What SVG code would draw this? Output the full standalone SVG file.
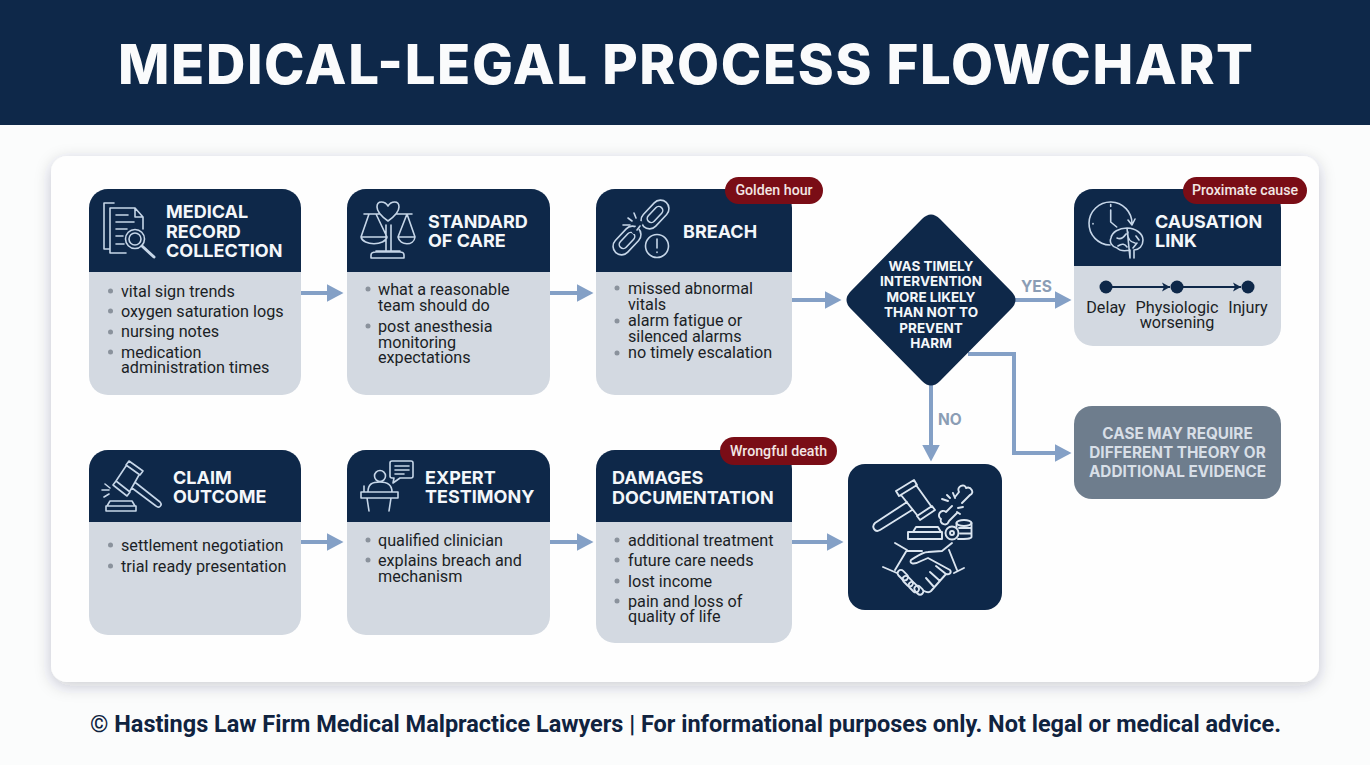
<svg xmlns="http://www.w3.org/2000/svg" width="1370" height="765" viewBox="0 0 1370 765">
<style>
.body{fill:#d3d9e1}
.head{fill:#0e2849}
.h{font-family:Inter,"Liberation Sans",sans-serif;font-weight:700;font-size:18px;fill:#f4f7fa}
.t{font-family:Roboto,"Liberation Sans",sans-serif;font-size:16.2px;fill:#1b1f26}
.b{fill:#8a929c}
.badge{fill:#7a0d16}
.bt{font-family:Roboto,"Liberation Sans",sans-serif;font-weight:500;font-size:14.2px;fill:#f3e6e4;text-anchor:middle}
.ic{fill:none;stroke:#c6d6e8;stroke-width:1.6;stroke-linecap:round;stroke-linejoin:round}
.ic2{fill:none;stroke:#dbe5f0;stroke-width:1.9;stroke-linecap:round;stroke-linejoin:round}
.c{fill:none;stroke:#84a0c6;stroke-width:4}
.d{font-family:Inter,"Liberation Sans",sans-serif;font-weight:700;font-size:13.5px;fill:#f4f7fa;text-anchor:middle}
.a{font-family:Inter,"Liberation Sans",sans-serif;font-weight:700;font-size:15.3px;fill:#d8dfe7;text-anchor:middle}
.l{font-family:Inter,"Liberation Sans",sans-serif;font-weight:700;font-size:15.5px;fill:#8b9db5}
</style>
<defs>
<marker id="ah" markerUnits="userSpaceOnUse" markerWidth="17" markerHeight="18" refX="0.5" refY="9" orient="auto"><path d="M0,0L17,9L0,18Z" fill="#84a0c6"/></marker>
<marker id="tl" markerUnits="userSpaceOnUse" markerWidth="9" markerHeight="10" refX="8" refY="5" orient="auto"><path d="M0,0.5L8,5L0,9.5L2,5Z" fill="#0e2849"/></marker>
<filter id="sh" x="-5%" y="-5%" width="110%" height="112%"><feDropShadow dx="0" dy="4" stdDeviation="8" flood-color="#1c2c44" flood-opacity="0.22"/></filter>
</defs>
<rect width="1370" height="765" fill="#fbfcfc"/>
<g id="header"><rect width="1370" height="125" fill="#0e2849"/>
<text x="685.500" y="83.500" text-anchor="middle" textLength="1135" lengthAdjust="spacing" font-family="Inter,'Liberation Sans',sans-serif" font-weight="800" font-size="54.500" fill="#fafbfc">MEDICAL-LEGAL PROCESS FLOWCHART</text></g>
<rect id="panel" x="51" y="156" width="1268" height="526" rx="16" fill="#fefefe" filter="url(#sh)"/>

<g id="connectors">
<path class="c" marker-end="url(#ah)" d="M301,293H327"/>
<path class="c" marker-end="url(#ah)" d="M550,293H577"/>
<path class="c" marker-end="url(#ah)" d="M792,300H825"/>
<path class="c" marker-end="url(#ah)" d="M1015,300H1055"/>
<path class="c" marker-end="url(#ah)" d="M968,354H1014V453H1055"/>
<path class="c" marker-end="url(#ah)" d="M931,385V445"/>
<path class="c" marker-end="url(#ah)" d="M301,542H327"/>
<path class="c" marker-end="url(#ah)" d="M550,542H577"/>
<path class="c" marker-end="url(#ah)" d="M792,542H827"/>
<text class="l" x="1021" y="292">YES</text>
<text class="l" x="938" y="425">NO</text>
</g>

<g id="medical-record">
<rect class="body" x="89" y="189" width="212" height="206" rx="19"/>
<path class="head" d="M89,272V208a19,19 0 0 1 19-19H282a19,19 0 0 1 19,19V272Z"/>
<path class="ic" d="M114,203H104V249H110M110,208H135L143,217V229M135,208V217H143M110,208V253H126M116,222H134M116,229H127M116,236H123M116,244H124M116,215H128"/>
<circle class="ic" cx="135" cy="239" r="9.500"/><circle class="ic" cx="135" cy="239" r="6"/>
<path class="ic" style="stroke-width:3" d="M142,246L154,257"/>
<text class="h" x="166" y="218">MEDICAL</text><text class="h" x="166" y="238">RECORD</text><text class="h" x="166" y="257">COLLECTION</text>
<g class="b"><circle cx="110.500" cy="291" r="2.500"/><circle cx="110.500" cy="311" r="2.500"/><circle cx="110.500" cy="332" r="2.500"/><circle cx="110.500" cy="352" r="2.500"/></g>
<text class="t" x="121" y="297">vital sign trends</text><text class="t" x="121" y="317">oxygen saturation logs</text><text class="t" x="121" y="337">nursing notes</text><text class="t" x="121" y="358">medication</text><text class="t" x="121" y="373">administration times</text>
</g>

<g id="standard-of-care">
<rect class="body" x="347" y="189" width="203" height="206" rx="19"/>
<path class="head" d="M347,272V208a19,19 0 0 1 19-19H531a19,19 0 0 1 19,19V272Z"/>
<path class="ic" d="M388,221C378,214 377,210 377,207C377,200 385,201 388,206C391,201 399,200 399,207C399,210 398,214 388,221ZM364,214H379M397,214H412M369,214L361,237H387L376,214M407,214L398,237H415ZM361,237C363,246 385,246 387,237M398,237C400,246 414,246 415,237M386,225V251M391,225V251M376,251H400M371,258V255C371,253 373,252 376,252H400C403,252 404,253 404,255V258Z"/>
<text class="h" x="428" y="228">STANDARD</text><text class="h" x="428" y="247">OF CARE</text>
<g class="b"><circle cx="368" cy="289" r="2.500"/><circle cx="368" cy="326" r="2.500"/></g>
<text class="t" x="378" y="295">what a reasonable</text><text class="t" x="378" y="311">team should do</text><text class="t" x="378" y="332">post anesthesia</text><text class="t" x="378" y="348">monitoring</text><text class="t" x="378" y="363">expectations</text>
</g>

<g id="breach">
<rect class="body" x="596" y="189" width="196" height="206" rx="19"/>
<path class="head" d="M596,272V208a19,19 0 0 1 19-19H773a19,19 0 0 1 19,19V272Z"/>
<g class="ic"><rect x="646.500" y="198" width="17" height="33" rx="8.500" transform="rotate(43 655 214.500)"/><rect x="651" y="205" width="8" height="19" rx="4" transform="rotate(43 655 214.500)"/>
<rect x="618.500" y="224" width="17" height="33" rx="8.500" transform="rotate(43 627 240.500)"/><rect x="623" y="231" width="8" height="19" rx="4" transform="rotate(43 627 240.500)"/>
<path style="stroke:#0e2849;stroke-width:4" d="M641,223L634,232"/>
<path d="M640,226L637,230M634,213L636,218M628,218L632,221M623,225L630,225"/>
<circle cx="657" cy="246" r="11.500"/><path d="M657,239V248M657,252V252.500"/></g>
<text class="h" x="683" y="238">BREACH</text>
<g class="b"><circle cx="617" cy="288" r="2.500"/><circle cx="617" cy="321" r="2.500"/><circle cx="617" cy="353" r="2.500"/></g>
<text class="t" x="628" y="294">missed abnormal</text><text class="t" x="628" y="310">vitals</text><text class="t" x="628" y="326">alarm fatigue or</text><text class="t" x="628" y="342">silenced alarms</text><text class="t" x="628" y="358">no timely escalation</text>
<rect class="badge" x="725" y="177" width="98" height="27" rx="13.500"/><text class="bt" x="774" y="195">Golden hour</text>
</g>

<g id="decision">
<path class="head" d="M922,219Q931,210 940,219L1011,291Q1020,300 1011,309L940,381Q931,390 922,381L851,309Q842,300 851,291Z"/>
<text class="d" x="931" y="271">WAS TIMELY</text><text class="d" x="931" y="286">INTERVENTION</text><text class="d" x="931" y="302">MORE LIKELY</text><text class="d" x="931" y="317">THAN NOT TO</text><text class="d" x="931" y="333">PREVENT</text><text class="d" x="931" y="348">HARM</text>
</g>

<g id="causation-link">
<rect class="body" x="1074" y="189" width="207" height="157" rx="19"/>
<path class="head" d="M1074,266V208a19,19 0 0 1 19-19H1262a19,19 0 0 1 19,19V266Z"/>
<g class="ic"><path d="M1110,245A21.500,21.500 0 1 1 1132,224M1128,220L1132,225L1135,219M1110.700,210V222L1116.700,227M1110.700,204.500V206.500M1093,223.500V224"/>
<path d="M1127,228C1136,228 1143,234 1143,240C1143,246 1139,250 1134,250V258M1130,258V250C1126,251 1120,251 1117,248C1112,247 1109,242 1111,238C1112,232 1119,228 1127,228ZM1117,238C1121,240 1124,237 1126,234M1128,232C1127,238 1130,242 1135,243M1118,246C1122,243 1125,244 1127,247M1136,236L1139,240M1133,248L1137,243"/></g>
<text class="h" x="1155" y="228">CAUSATION</text><text class="h" x="1155" y="247">LINK</text>
<path d="M1112,287H1170" stroke="#0e2849" stroke-width="1.800" marker-end="url(#tl)" fill="none"/>
<path d="M1183,287H1241" stroke="#0e2849" stroke-width="1.800" marker-end="url(#tl)" fill="none"/>
<g fill="#0e2849"><circle cx="1106" cy="287" r="6.500"/><circle cx="1177" cy="287" r="6.500"/><circle cx="1248" cy="287" r="6.500"/></g>
<g text-anchor="middle"><text class="t" x="1106" y="313">Delay</text><text class="t" x="1177" y="313">Physiologic</text><text class="t" x="1177" y="328">worsening</text><text class="t" x="1248" y="313">Injury</text></g>
<rect class="badge" x="1183" y="177" width="124" height="27" rx="13.500"/><text class="bt" x="1245" y="195">Proximate cause</text>
</g>

<g id="alternative">
<rect x="1074" y="406" width="207" height="93" rx="18" fill="#6e7d8d"/>
<text class="a" x="1177.500" y="439">CASE MAY REQUIRE</text><text class="a" x="1177.500" y="458">DIFFERENT THEORY OR</text><text class="a" x="1177.500" y="477">ADDITIONAL EVIDENCE</text>
</g>

<g id="claim-outcome">
<rect class="body" x="89" y="450" width="212" height="185" rx="19"/>
<path class="head" d="M89,522V469a19,19 0 0 1 19-19H282a19,19 0 0 1 19,19V522Z"/>
<g class="ic"><path d="M129,461L143,471L140,475L126,465ZM116,481L130,492L127,496L113,485ZM126,466L116,481M139,475L130,491M136,483L160,502C163,505 159,509 156,506L132,488"/>
<path d="M105,484L110,488M102,490L109,490M104,497L109,494M110,501H132L135,506H107ZM106,506H136V511H106Z"/></g>
<text class="h" x="173" y="484">CLAIM</text><text class="h" x="173" y="503">OUTCOME</text>
<g class="b"><circle cx="110.500" cy="545" r="2.500"/><circle cx="110.500" cy="566" r="2.500"/></g>
<text class="t" x="121" y="551">settlement negotiation</text><text class="t" x="121" y="572">trial ready presentation</text>
</g>

<g id="expert-testimony">
<rect class="body" x="347" y="450" width="203" height="185" rx="19"/>
<path class="head" d="M347,522V469a19,19 0 0 1 19-19H531a19,19 0 0 1 19,19V522Z"/>
<g class="ic"><circle cx="380" cy="476" r="5.500"/><path d="M368,492C368,484 372,482 380,482C388,482 392,486 392,492M364,492V486M361,492H398V498H361ZM367,498L369,511M391,498L389,511"/>
<path d="M392,461H411C412,461 413,462 413,463V476C413,477 412,478 411,478H400L393,483L394,478H392C391,478 390,477 390,476V463C390,462 391,461 392,461ZM395,466H409M395,470H409M395,474H404"/></g>
<text class="h" x="425" y="484">EXPERT</text><text class="h" x="425" y="503">TESTIMONY</text>
<g class="b"><circle cx="368" cy="540" r="2.500"/><circle cx="368" cy="560" r="2.500"/></g>
<text class="t" x="378" y="546">qualified clinician</text><text class="t" x="378" y="566">explains breach and</text><text class="t" x="378" y="582">mechanism</text>
</g>

<g id="damages">
<rect class="body" x="596" y="450" width="196" height="193" rx="19"/>
<path class="head" d="M596,522V469a19,19 0 0 1 19-19H773a19,19 0 0 1 19,19V522Z"/>
<text class="h" x="612" y="484">DAMAGES</text><text class="h" x="612" y="504">DOCUMENTATION</text>
<g class="b"><circle cx="617" cy="540" r="2.500"/><circle cx="617" cy="560" r="2.500"/><circle cx="617" cy="581" r="2.500"/><circle cx="617" cy="601" r="2.500"/></g>
<text class="t" x="628" y="546">additional treatment</text><text class="t" x="628" y="566">future care needs</text><text class="t" x="628" y="587">lost income</text><text class="t" x="628" y="607">pain and loss of</text><text class="t" x="628" y="622">quality of life</text>
<rect class="badge" x="720" y="437" width="117" height="28" rx="14"/><text class="bt" x="778.500" y="456">Wrongful death</text>
</g>

<g id="settlement-icon">
<rect class="head" x="848" y="464" width="154" height="146" rx="17"/>
<g class="ic2"><path d="M896,491L914,480L917,485L899,496ZM917,516L932,506L935,510L920,520ZM901,495L917,515M916,485L931,506M907,502L875,523C871,527 875,533 880,530L912,510"/>
<path d="M913,532L916,527H938L941,532ZM908,532H942V539H908Z"/>
<path d="M955,497L959,492C956,486 965,483 966,488C971,486 975,493 970,495L962,503M952,506L946,512C941,508 936,516 941,519C939,524 947,527 949,521L957,513"/>
<path d="M942,499L948,501M947,495L950,498M953,493L955,498M958,508L963,507M957,512L960,514"/>
<circle cx="952" cy="533" r="6.500"/><circle cx="952" cy="533" r="2"/><ellipse cx="964" cy="523" rx="7.500" ry="3"/><path d="M956.500,523V527M971.500,523V537C971,539 966,539 958,539M959,528H971.500M960,533.500H971.500"/>
<path d="M895,543L907,550M907,550L895,570M883,567L897,573M942,551L952,543M949,550L957,570M954,573L964,568M907,551H922M942,551L928,552C922,552 916,557 911,560C909,564 914,565 921,561L928,558L950,570C952,573 949,575 946,574L931,591C929,593 926,592 924,591M946,574L936,566M940,581L930,572M934,587L926,578"/>
<rect x="897" y="572" width="12" height="6.500" rx="3.200" transform="rotate(45 903 575)"/><rect x="902" y="578" width="12" height="6.500" rx="3.200" transform="rotate(45 908 581)"/><rect x="908" y="584" width="12" height="6.500" rx="3.200" transform="rotate(45 914 587)"/><rect x="914" y="587" width="10" height="6.500" rx="3.200" transform="rotate(45 919 590)"/></g>
</g>

<g id="footer"><text x="685.500" y="732" text-anchor="middle" textLength="1191" lengthAdjust="spacing" font-family="Roboto,'Liberation Sans',sans-serif" font-weight="700" font-size="23.500" fill="#10233f">© Hastings Law Firm Medical Malpractice Lawyers | For informational purposes only. Not legal or medical advice.</text></g>
</svg>
